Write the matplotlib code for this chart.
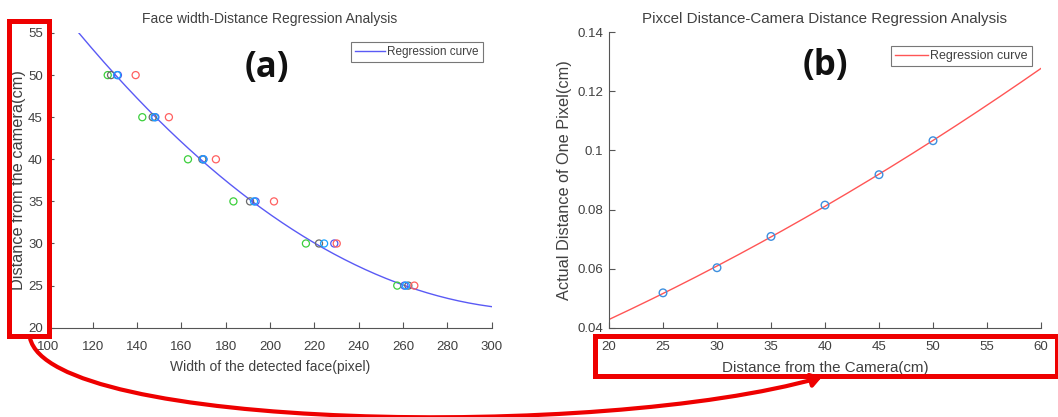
import numpy as np
import matplotlib
matplotlib.use("Agg")
import matplotlib.pyplot as plt
from matplotlib.patches import Rectangle, FancyArrowPatch
from matplotlib.path import Path

# ---------------- data ----------------
distances = [50, 45, 40, 35, 30, 25]
width_green = [126.8, 142.4, 163.0, 183.5, 216.2, 257.4]
width_gray = [128.3, 147.1, 169.5, 191.0, 222.1, 262.4]
width_cyan = [131.0, 148.0, 169.9, 192.8, 224.4, 261.3]
width_blue = [131.4, 148.3, 170.0, 193.5, 229.0, 260.6]
width_red = [139.4, 154.4, 175.6, 201.8, 230.1, 265.1]

# regression curve (a)
curve_a_x = [113.8, 130, 148, 170, 192, 225, 262, 300]
curve_a_y = [55.0, 50.1, 45.1, 39.7, 35.0, 29.3, 24.9, 22.5]

cam_dist = [25, 30, 35, 40, 45, 50]
pixel_size = [0.0518, 0.0603, 0.0709, 0.0815, 0.0918, 0.1033]

# regression curve (b)
curve_b_x = [20, 25, 30, 35, 40, 45, 50, 60]
curve_b_y = [0.0428, 0.0518, 0.0603, 0.0709, 0.0815, 0.0918, 0.1033, 0.1278]

a_xticks = [100, 120, 140, 160, 180, 200, 220, 240, 260, 280, 300]
a_yticks = [20, 25, 30, 35, 40, 45, 50, 55]
b_xticks = [20, 25, 30, 35, 40, 45, 50, 55, 60]
b_yticks = [0.04, 0.06, 0.08, 0.10, 0.12, 0.14]
b_yticklabels = ["0.04", "0.06", "0.08", "0.1", "0.12", "0.14"]

# ---------------- style ----------------
W, H = 1058, 417
plt.rcParams['font.family'] = ['Liberation Sans', 'DejaVu Sans']
TXT = '#404040'
AX = '#555555'

fig = plt.figure(figsize=(W / 100, H / 100), dpi=100)
fig.patch.set_facecolor('white')


def px_axes(x0, y_top, x1, y_bot):
    return fig.add_axes([x0 / W, 1 - y_bot / H, (x1 - x0) / W, (y_bot - y_top) / H])


def style(ax):
    for s in ['top', 'right']:
        ax.spines[s].set_visible(False)
    for s in ['left', 'bottom']:
        ax.spines[s].set_color(AX)
        ax.spines[s].set_linewidth(0.8)
    ax.tick_params(direction='in', length=4, width=0.8, colors=AX,
                   labelcolor=TXT, labelsize=9.5)
    ax.tick_params(axis='x', pad=9.5)
    ax.tick_params(axis='y', pad=4)


# ---------------- (a) ----------------
axa = px_axes(48.3, 33, 491.7, 327.7)
style(axa)
mk = dict(marker='o', facecolors='none', s=26, linewidths=0.9, zorder=3)
axa.scatter(width_green, distances, edgecolors='#3ccf3c', **mk)
axa.scatter(width_gray, distances, edgecolors='#6a6a6a', **mk)
axa.scatter(width_blue, distances, edgecolors='#5555ee', **mk)
axa.scatter(width_cyan, distances, edgecolors='#1aa3ff', **mk)
axa.scatter(width_red, distances, edgecolors='#ff6060', **mk)
ca = np.polyfit(curve_a_x, curve_a_y, 2)
xa = np.linspace(curve_a_x[0], curve_a_x[-1], 200)
axa.plot(xa, np.polyval(ca, xa), color='#5a5af5', lw=1.0, label='Regression curve', zorder=2)
axa.set_xlim(100, 300)
axa.set_ylim(20, 55)
axa.set_xticks(a_xticks)
axa.set_yticks(a_yticks)
axa.set_title('Face width-Distance Regression Analysis', fontsize=10, color=TXT, pad=7)
axa.set_xlabel('Width of the detected face(pixel)', fontsize=10, color=TXT, va='center')
axa.xaxis.set_label_coords(0.5, -0.1334)
axa.set_ylabel('Distance from the camera(cm)', fontsize=11.7, color=TXT, va='center')
axa.yaxis.set_label_coords(-0.0683, 0.5)
leg = axa.legend(loc='upper right', bbox_to_anchor=(0.98, 0.97), fontsize=8.5,
                 frameon=True, fancybox=False, handlelength=2.5, handletextpad=0.2,
                 borderpad=0.35, borderaxespad=0)
leg.get_frame().set_edgecolor('#555555')
leg.get_frame().set_linewidth(0.8)
for t in leg.get_texts():
    t.set_color(TXT)
axa.text(0.492, 0.88, '(a)', transform=axa.transAxes, ha='center', va='center',
         fontsize=25, fontweight='bold', family=['Open Sans', 'DejaVu Sans'], color='#111111')

# ---------------- (b) ----------------
axb = px_axes(609, 32.3, 1041, 327.7)
style(axb)
cb = np.polyfit(curve_b_x, curve_b_y, 2)
xb = np.linspace(curve_b_x[0], curve_b_x[-1], 200)
axb.plot(xb, np.polyval(cb, xb), color='#ff5555', lw=1.0, label='Regression curve', zorder=2)
axb.scatter(cam_dist, pixel_size, marker='o', facecolors='none', edgecolors='#3d8fdf',
            s=30, linewidths=1.0, zorder=3)
axb.set_xlim(20, 60)
axb.set_ylim(0.04, 0.14)
axb.set_xticks(b_xticks)
axb.set_yticks(b_yticks)
axb.set_yticklabels(b_yticklabels)
axb.set_title('Pixcel Distance-Camera Distance Regression Analysis', fontsize=10.9, color=TXT, pad=7)
axb.set_xlabel('Distance from the Camera(cm)', fontsize=10.9, color=TXT, va='center')
axb.xaxis.set_label_coords(0.5, -0.1364)
axb.set_ylabel('Actual Distance of One Pixel(cm)', fontsize=11.7, color=TXT, va='center')
axb.yaxis.set_label_coords(-0.1019, 0.5)
legb = axb.legend(loc='upper right', bbox_to_anchor=(0.98, 0.955), fontsize=9,
                  frameon=True, fancybox=False, handlelength=2.6, handletextpad=0.2,
                  borderpad=0.35, borderaxespad=0)
legb.get_frame().set_edgecolor('#555555')
legb.get_frame().set_linewidth(0.8)
for t in legb.get_texts():
    t.set_color(TXT)
axb.text(0.50, 0.885, '(b)', transform=axb.transAxes, ha='center', va='center',
         fontsize=25, fontweight='bold', family=['Open Sans', 'DejaVu Sans'], color='#111111')

# ---------------- red annotations ----------------
RED = '#ee0000'


def fx(x):
    return x / W


def fy(y):
    return 1 - y / H


for (x0, y0, x1, y1) in [(9, 20.8, 49, 335.5), (595, 335.5, 1057, 376)]:
    fig.patches.append(Rectangle((fx(x0), fy(y1)), fx(x1) - fx(x0), fy(y0) - fy(y1),
                                 transform=fig.transFigure, fill=False, edgecolor=RED,
                                 linewidth=3.6, zorder=10))

verts = [(fx(30), fy(338)), (fx(50), fy(430)), (fx(600), fy(440)), (fx(822), fy(377))]
path = Path(verts, [Path.MOVETO, Path.CURVE4, Path.CURVE4, Path.CURVE4])
arrow = FancyArrowPatch(path=path, transform=fig.transFigure, arrowstyle='-|>,head_length=6,head_width=4',
                        color=RED, linewidth=3.0, zorder=10)
fig.patches.append(arrow)

fig.savefig('out.png', dpi=100, facecolor='white')
